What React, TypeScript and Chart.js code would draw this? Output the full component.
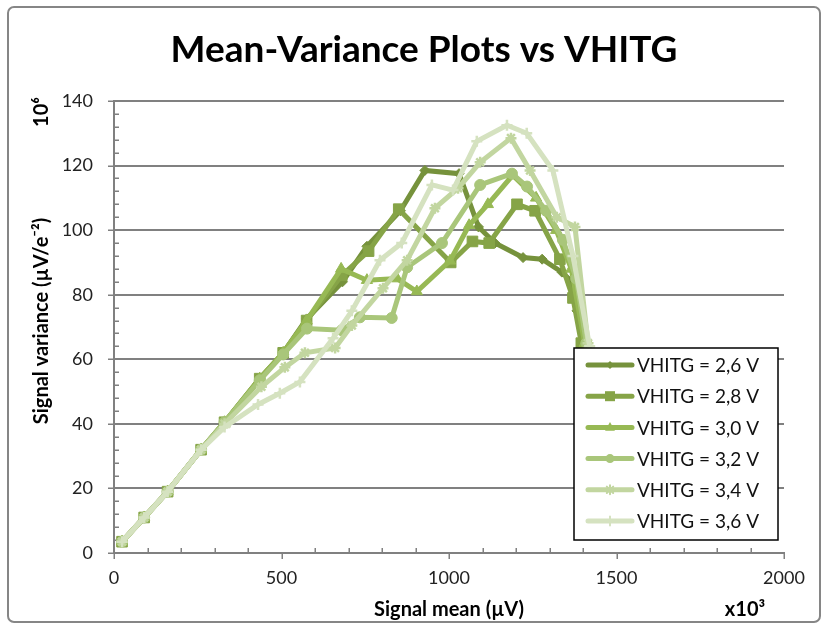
import React, { useEffect, useRef } from 'react';
import { Chart, registerables } from 'chart.js';

Chart.register(...registerables);

// ---- data ----
const seriesLabels = ['VHITG = 2,6 V', 'VHITG = 2,8 V', 'VHITG = 3,0 V', 'VHITG = 3,2 V', 'VHITG = 3,4 V', 'VHITG = 3,6 V'];

const mean26 = [24, 90, 160, 260, 330, 435, 505, 575, 682, 755, 855, 928, 1030, 1088, 1137, 1221, 1278, 1337, 1367, 1382, 1400];
const var26 = [3.5, 11, 19, 32, 40.5, 54, 62, 72.5, 84, 95, 106, 118.5, 117.5, 101, 96, 91.5, 91, 87, 84, 75, 65];

const mean28 = [24, 90, 160, 260, 330, 435, 505, 575, 680, 760, 850, 1005, 1070, 1120, 1203, 1257, 1331, 1370, 1395];
const var28 = [3.5, 11, 19, 32, 40.5, 54, 62, 72, 86, 93.5, 106.5, 90, 96.5, 96, 108, 106, 91, 79, 65];

const mean30 = [24, 90, 160, 260, 330, 435, 505, 575, 678, 755, 845, 904, 1003, 1060, 1116, 1190, 1260, 1320, 1365, 1405];
const var30 = [3.5, 11, 19, 32, 40.5, 54, 62, 72, 88, 84.5, 85, 81, 90.5, 101.5, 108, 117, 110, 100, 88, 65];

const mean32 = [24, 90, 160, 260, 330, 435, 505, 576, 680, 734, 829, 875, 979, 1093, 1188, 1233, 1290, 1340, 1380, 1410];
const var32 = [3.5, 11, 19, 32, 40.5, 53.5, 61.5, 69.5, 69, 73, 72.8, 88.5, 96, 114, 117.5, 113.5, 106, 97, 85, 65];

const mean34 = [24, 90, 160, 260, 330, 440, 510, 570, 660, 710, 803, 875, 958, 1027, 1093, 1185, 1242, 1322, 1376, 1415];
const var34 = [3.5, 11, 19, 32, 40, 51.5, 57.5, 62, 63.5, 70.5, 82, 90.7, 106.8, 113, 121, 128.5, 118.5, 104, 101, 65];

const mean36 = [24, 90, 160, 260, 330, 430, 495, 555, 654, 710, 794, 859, 949, 1012, 1083, 1173, 1232, 1310, 1370, 1420];
const var36 = [3.5, 11, 19, 32, 39, 46, 49.5, 53, 66.5, 75, 90.7, 96, 114, 112.4, 127.5, 132.5, 130, 118.5, 92, 64];

const xMin = 0;
const xMax = 2000;
const xStep = 500;
const xMinorStep = 100;
const yMin = 0;
const yMax = 140;
const yStep = 20;
const yMinorStep = 4;

const titleText = 'Mean-Variance Plots vs VHITG';
const xTitle = 'Signal mean (µV)';
const xUnit = 'x10³';
const yTitle = 'Signal variance (µV/e⁻²)';
const yUnit = '10⁶';

// ---- styles ----
const colors = ['#76923C', '#86A447', '#97B954', '#A9C67A', '#C2D6A0', '#D5E2C0'];
const pointStyles = ['rectRot', 'rect', 'triangle', 'circle', 'star', 'cross'];
const pointRadii = [5, 7.5, 6.5, 5.5, 5.5, 5.5];
const legendRadii = [4, 5, 5.5, 4.5, 4.5, 4.5];
const FONT = 'Lato, "Open Sans", sans-serif';
const GRID = '#808080';

const allMeans = [mean26, mean28, mean30, mean32, mean34, mean36];
const allVars = [var26, var28, var30, var32, var34, var36];

function drawMarker(ctx: CanvasRenderingContext2D, style: string, x: number, y: number, r: number, color: string) {
  ctx.save();
  ctx.fillStyle = color;
  ctx.strokeStyle = color;
  ctx.lineWidth = 2;
  ctx.beginPath();
  if (style === 'rectRot') {
    ctx.moveTo(x, y - r); ctx.lineTo(x + r, y); ctx.lineTo(x, y + r); ctx.lineTo(x - r, y); ctx.closePath(); ctx.fill();
  } else if (style === 'rect') {
    ctx.rect(x - r, y - r, r * 2, r * 2); ctx.fill();
  } else if (style === 'triangle') {
    ctx.moveTo(x, y - r); ctx.lineTo(x + r * 0.9, y + r * 0.6); ctx.lineTo(x - r * 0.9, y + r * 0.6); ctx.closePath(); ctx.fill();
  } else if (style === 'circle') {
    ctx.arc(x, y, r, 0, Math.PI * 2); ctx.fill();
  } else if (style === 'star') {
    for (let k = 0; k < 4; k++) {
      const a = (k * Math.PI) / 4;
      ctx.moveTo(x - Math.cos(a) * r, y - Math.sin(a) * r);
      ctx.lineTo(x + Math.cos(a) * r, y + Math.sin(a) * r);
    }
    ctx.stroke();
  } else {
    ctx.moveTo(x - r, y); ctx.lineTo(x + r, y); ctx.moveTo(x, y - r); ctx.lineTo(x, y + r); ctx.stroke();
  }
  ctx.restore();
}

const decorPlugin = {
  id: 'decor',
  beforeDraw(chart: any) {
    const ctx = chart.ctx as CanvasRenderingContext2D;
    ctx.save();
    ctx.fillStyle = '#ffffff';
    ctx.fillRect(0, 0, chart.width, chart.height);
    ctx.strokeStyle = '#868686';
    ctx.lineWidth = 2;
    const bx = 8, by = 7, bw = 812, bh = 615, rad = 6;
    ctx.beginPath();
    ctx.moveTo(bx + rad, by);
    ctx.arcTo(bx + bw, by, bx + bw, by + bh, rad);
    ctx.arcTo(bx + bw, by + bh, bx, by + bh, rad);
    ctx.arcTo(bx, by + bh, bx, by, rad);
    ctx.arcTo(bx, by, bx + bw, by, rad);
    ctx.closePath();
    ctx.stroke();
    ctx.restore();
  },
  beforeDatasetsDraw(chart: any) {
    const ctx = chart.ctx as CanvasRenderingContext2D;
    const xs = chart.scales.x;
    const ys = chart.scales.y;
    const area = chart.chartArea;
    ctx.save();
    ctx.strokeStyle = GRID;
    ctx.lineWidth = 1.5;
    ctx.beginPath();
    for (let v = yMin; v <= yMax + 1e-9; v += yMinorStep) {
      const py = Math.round(ys.getPixelForValue(v)) + 0.25;
      if (v % yStep === 0) {
        ctx.moveTo(area.left - 6, py); ctx.lineTo(area.left, py);
      } else {
        ctx.moveTo(area.left, py); ctx.lineTo(area.left + 5, py);
      }
    }
    for (let v = xMin; v <= xMax + 1e-9; v += xMinorStep) {
      const px = Math.round(xs.getPixelForValue(v)) + 0.25;
      if (v % xStep === 0) {
        ctx.moveTo(px, area.bottom); ctx.lineTo(px, area.bottom + 6);
      } else {
        ctx.moveTo(px, area.bottom); ctx.lineTo(px, area.bottom - 5);
      }
    }
    ctx.stroke();
    ctx.restore();
  },
  afterDraw(chart: any) {
    const ctx = chart.ctx as CanvasRenderingContext2D;
    const area = chart.chartArea;
    ctx.save();
    ctx.fillStyle = '#000000';
    ctx.font = `bold 37px ${FONT}`;
    ctx.textAlign = 'center';
    ctx.textBaseline = 'middle';
    ctx.fillText(titleText, 424, 50);
    ctx.font = `bold 20px ${FONT}`;
    ctx.fillText(xTitle, (area.left + area.right) / 2, 610);
    ctx.fillText(xUnit, 745, 610);
    ctx.save();
    ctx.translate(42, (area.top + area.bottom) / 2 - 6);
    ctx.rotate(-Math.PI / 2);
    ctx.fillText(yTitle, 0, 0);
    ctx.restore();
    ctx.save();
    ctx.translate(42, 112);
    ctx.rotate(-Math.PI / 2);
    ctx.fillText(yUnit, 0, 0);
    ctx.restore();

    // legend
    const lx = 574, ly = 348, lw = 204, lh = 192;
    ctx.fillStyle = '#ffffff';
    ctx.fillRect(lx, ly, lw, lh);
    ctx.strokeStyle = '#000000';
    ctx.lineWidth = 1.5;
    ctx.strokeRect(lx, ly, lw, lh);
    ctx.font = `19px ${FONT}`;
    ctx.textAlign = 'left';
    ctx.textBaseline = 'middle';
    for (let i = 0; i < seriesLabels.length; i++) {
      const ry = 365 + i * 31.2;
      ctx.strokeStyle = colors[i];
      ctx.lineWidth = 5;
      ctx.lineCap = 'round';
      ctx.beginPath();
      ctx.moveTo(588, ry);
      ctx.lineTo(632, ry);
      ctx.stroke();
      drawMarker(ctx, pointStyles[i], 610, ry, legendRadii[i], colors[i]);
      ctx.fillStyle = '#111111';
      ctx.fillText(seriesLabels[i], 637, ry + 1);
    }
    ctx.restore();
  },
};

export default function App() {
  const canvasRef = useRef<HTMLCanvasElement | null>(null);

  useEffect(() => {
    if (!canvasRef.current) return;
    const datasets = seriesLabels.map((label, i) => ({
      label,
      data: allMeans[i].map((m, j) => ({ x: m, y: allVars[i][j] })),
      borderColor: colors[i],
      backgroundColor: colors[i],
      pointBackgroundColor: colors[i],
      pointBorderColor: colors[i],
      pointBorderWidth: pointStyles[i] === 'star' || pointStyles[i] === 'cross' ? 2.5 : 1,
      pointStyle: pointStyles[i],
      pointRadius: pointRadii[i],
      borderWidth: 5,
      tension: 0,
      showLine: true,
      order: seriesLabels.length - i,
    }));

    const chart = new Chart(canvasRef.current, {
      type: 'scatter',
      data: { datasets },
      options: {
        animation: false,
        responsive: false,
        maintainAspectRatio: false,
        layout: { padding: { top: 101, right: 44, left: 0, bottom: 0 } },
        plugins: {
          legend: { display: false },
          title: { display: false },
          tooltip: { enabled: false },
        },
        scales: {
          x: {
            type: 'linear',
            min: xMin,
            max: xMax,
            afterFit: (s: any) => { s.height = 76; },
            ticks: { stepSize: xStep, padding: 14, color: '#222', font: { family: FONT, size: 18 }, callback: (v: any) => String(v) },
            grid: { display: false, drawTicks: false },
            border: { display: true, color: GRID, width: 2 },
          },
          y: {
            type: 'linear',
            min: yMin,
            max: yMax,
            afterFit: (s: any) => { s.width = 114; },
            ticks: { stepSize: yStep, padding: 21, color: '#222', font: { family: FONT, size: 18 }, callback: (v: any) => String(v) },
            grid: { color: GRID, lineWidth: 2, drawTicks: false },
            border: { display: true, color: GRID, width: 2 },
          },
        },
      },
      plugins: [decorPlugin],
    } as any);
    return () => chart.destroy();
  }, []);

  return (
    <div style={{ position: 'fixed', left: 0, top: 0, width: 828, height: 629, background: '#fff' }}>
      <canvas ref={canvasRef} width={828} height={629} style={{ width: 828, height: 629 }} />
    </div>
  );
}
